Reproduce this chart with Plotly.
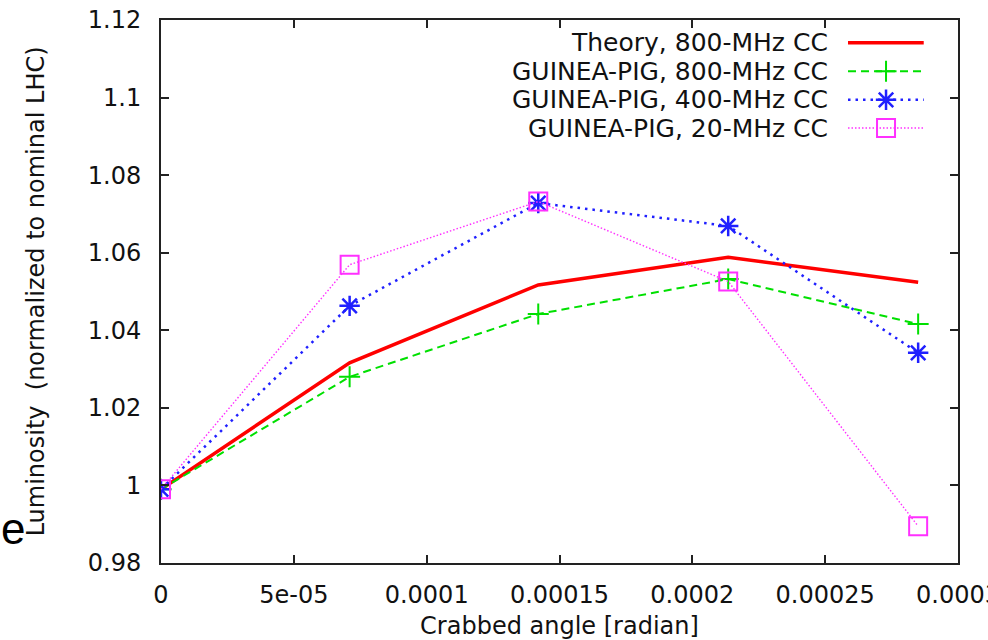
import plotly.graph_objects as go

# Crabbed crossing angle [rad] and normalised luminosity for each case
crab_angle = [0.0, 7.1e-5, 1.42e-4, 2.135e-4, 2.85e-4]
lumi_theory_800 = [0.999, 1.0316, 1.0517, 1.0588, 1.0524]
lumi_gp_800 = [0.999, 1.0280, 1.0442, 1.0532, 1.0416]
lumi_gp_400 = [0.999, 1.0463, 1.0728, 1.0669, 1.0342]
lumi_gp_20 = [0.999, 1.0569, 1.0732, 1.0526, 0.9895]

series_names = [
    "Theory, 800-MHz CC",
    "GUINEA-PIG, 800-MHz CC",
    "GUINEA-PIG, 400-MHz CC",
    "GUINEA-PIG, 20-MHz CC",
]

x_tick_vals = [0, 5e-5, 1e-4, 1.5e-4, 2e-4, 2.5e-4, 3e-4]
x_tick_text = ["0", "5e-05", "0.0001", "0.00015", "0.0002", "0.00025", "0.0003"]
y_tick_vals = [0.98, 1.0, 1.02, 1.04, 1.06, 1.08, 1.1, 1.12]
y_tick_text = ["0.98", "1", "1.02", "1.04", "1.06", "1.08", "1.1", "1.12"]

FONT = "DejaVu Sans, Liberation Sans, Arial, sans-serif"

styles = [
    dict(line=dict(color="#ff0000", width=3.5, dash="solid"), marker=None),
    dict(line=dict(color="#00e000", width=2, dash="8px,5px"),
         marker=dict(symbol="cross-thin-open", size=15, color="#00e000",
                     line=dict(color="#00e000", width=2))),
    dict(line=dict(color="#2020ff", width=2.5, dash="2.5px,5px"),
         marker=dict(symbol="asterisk-open", size=17, color="#2020ff",
                     line=dict(color="#2020ff", width=2.5))),
    dict(line=dict(color="#ff30ff", width=1.4, dash="1.5px,2px"),
         marker=dict(symbol="square-open", size=18, color="#ff30ff",
                     line=dict(color="#ff30ff", width=2))),
]
series_values = [lumi_theory_800, lumi_gp_800, lumi_gp_400, lumi_gp_20]

fig = go.Figure()

for name, vals, st in zip(series_names, series_values, styles):
    kw = dict(x=crab_angle, y=vals, name=name, showlegend=False,
              line=st["line"])
    if st["marker"] is None:
        kw["mode"] = "lines"
    else:
        kw["mode"] = "lines+markers"
        kw["marker"] = st["marker"]
    fig.add_trace(go.Scatter(**kw))

# Key drawn in the upper right: label on the left, line sample on the right
key_rows = [0.958, 0.9055, 0.853, 0.801]
key_x0, key_xm, key_x1 = 0.862, 0.9097, 0.957
for name, st, ky in zip(series_names, styles, key_rows):
    fig.add_trace(go.Scatter(x=[key_x0, key_x1], y=[ky, ky], mode="lines",
                             line=st["line"], xaxis="x2", yaxis="y2",
                             showlegend=False, hoverinfo="skip"))
    if st["marker"] is not None:
        fig.add_trace(go.Scatter(x=[key_xm], y=[ky], mode="markers",
                                 marker=st["marker"], xaxis="x2", yaxis="y2",
                                 showlegend=False, hoverinfo="skip"))
    fig.add_annotation(x=0.839, y=ky, xref="paper", yref="paper",
                       text=name, showarrow=False, xanchor="right",
                       yanchor="middle",
                       font=dict(family=FONT, size=25, color="#111111"))

axis_common = dict(
    showline=True, linecolor="#222222", linewidth=2, mirror="ticks",
    ticks="inside", ticklen=8, tickwidth=1.5, tickcolor="#222222",
    showgrid=False, zeroline=False, ticklabeloverflow="allow",
    automargin=False,
    tickfont=dict(family=FONT, size=24, color="#111111"),
)

fig.update_layout(
    width=988, height=640,
    margin=dict(l=161, r=30, t=20, b=77, autoexpand=False),
    paper_bgcolor="white", plot_bgcolor="white",
    xaxis=dict(range=[0, 3e-4], tickvals=x_tick_vals, ticktext=x_tick_text,
               ticklabelstandoff=9,
               title=dict(text="Crabbed angle [radian]", standoff=16,
                          font=dict(family=FONT, size=24, color="#111111")),
               **axis_common),
    yaxis=dict(range=[0.98, 1.12], tickvals=y_tick_vals, ticktext=y_tick_text,
               ticklabelstandoff=13, **axis_common),
    xaxis2=dict(overlaying="x", range=[0, 1], visible=False),
    yaxis2=dict(overlaying="y", range=[0, 1], visible=False),
)

# Vertical axis label
fig.add_annotation(x=-0.157, y=0.5, xref="paper", yref="paper",
                   text="Luminosity  (normalized to nominal LHC)",
                   textangle=-90, showarrow=False, xanchor="center",
                   yanchor="middle",
                   font=dict(family=FONT, size=24, color="#111111"))
fig.add_annotation(x=-0.186, y=0.064, xref="paper", yref="paper",
                   text="e", showarrow=False, xanchor="center",
                   yanchor="middle",
                   font=dict(family="Liberation Sans, Arial, sans-serif",
                             size=44, color="#000000"))

fig.write_html("out.html")
